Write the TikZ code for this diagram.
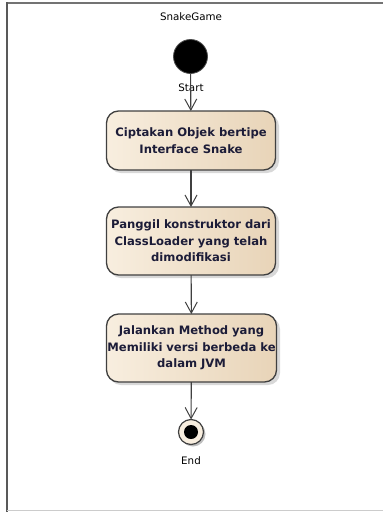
\documentclass[tikz,border=0pt]{standalone}
\usepackage{fontspec}
\setmainfont{DejaVu Sans}
\usetikzlibrary{arrows.meta}
\definecolor{edgegray}{HTML}{404040}
\definecolor{txt}{HTML}{1C1C38}
\definecolor{creamL}{HTML}{F8EEDF}
\definecolor{creamR}{HTML}{E8D4B8}
\tikzset{
  act/.style={draw=edgegray, line width=1.3pt, rounded corners=12pt, left color=creamL, right color=creamR,
    minimum width=169pt, outer sep=0pt, inner sep=0pt, align=center, text=txt,
    font=\fontsize{11.6}{16.5}\selectfont\bfseries},
  flow/.style={draw=edgegray, line width=1.1pt, -{Straight Barb[length=11pt,width=12pt,line width=1pt]}},
  shadowbox/.style={fill=black!22, rounded corners=12pt, draw=none, opacity=0.7},
  lbl/.style={font=\fontsize{10.3}{12}\selectfont, text=black, inner sep=0pt}
}
\begin{document}
\begin{tikzpicture}[x=1pt,y=-1pt]
\useasboundingbox (0,0) rectangle (383,512);
% frame
\draw[line width=1.8pt, draw=black!55] (7,3) -- (384,3);
\draw[line width=2.4pt, draw=black!65] (7,2) -- (7,512);
\draw[line width=1.2pt, draw=black!20] (7,510.5) -- (384,510.5);
\node[lbl] (title) at (191,17) {SnakeGame};
% shadows
\fill[shadowbox] (109,114) rectangle (279,173);
\fill[shadowbox] (109,210) rectangle (279,278);
\fill[shadowbox] (109,317) rectangle (280,385);
% nodes
\node[circle, fill=black, draw=black!70, line width=0.8pt, minimum size=34pt, inner sep=0pt] (start) at (190.5,56.5) {};
\node[lbl] (startlbl) at (191,88) {Start};
\node[act, minimum height=59pt] (a1) at (191,140.5) {Ciptakan Objek bertipe\\Interface Snake};
\node[act, minimum height=68pt] (a2) at (191,241) {Panggil konstruktor dari\\ClassLoader yang telah\\dimodifikasi};
\node[act, minimum height=68pt, minimum width=170pt, text width=170pt] (a3) at (191.5,348) {Jalankan Method yang\\Memiliki versi berbeda ke\\dalam JVM};
\fill[black!25] (193,434) circle (12.5pt);
\node[circle, draw=edgegray, fill=creamL, line width=1.2pt, minimum size=25pt, inner sep=0pt, outer sep=0pt] (end) at (191,432) {};
\fill[black] (end.center) circle (7pt);
\node[lbl] (endlbl) at (191,461) {End};
% flows
\draw[flow] (start) -- (a1);
\draw[flow] (a1) -- (a2);
\draw[flow] (a2) -- (a3);
\draw[flow] (a3) -- (end);
\end{tikzpicture}
\end{document}
